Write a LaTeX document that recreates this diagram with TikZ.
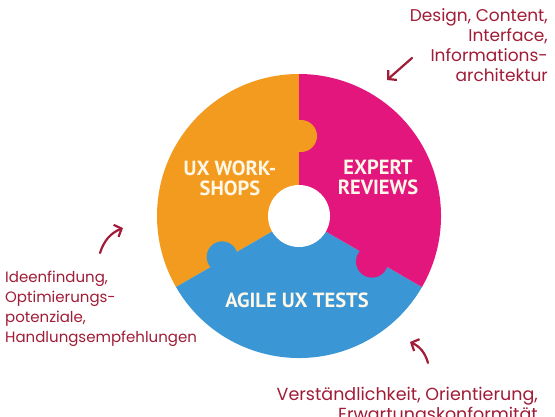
\documentclass[tikz,border=0pt]{standalone}
\usepackage{fontspec}
\usetikzlibrary{arrows.meta,calc}
\newfontfamily\notefont{Poppins}
\newfontfamily\segfont{PT Sans}
\definecolor{cOrange}{RGB}{243,155,30}
\definecolor{cMagenta}{RGB}{226,22,125}
\definecolor{cBlue}{RGB}{58,150,212}
\definecolor{cNote}{RGB}{160,28,55}
\definecolor{cLabel}{RGB}{255,247,232}
\begin{document}
\begin{tikzpicture}[x=1pt,y=1pt,
  seglabel/.style={text=cLabel, font=\segfont\bfseries\fontsize{20.5}{20}\selectfont, align=center, inner sep=0pt},
  note/.style={text=cNote, inner sep=0pt},
  notearrow/.style={draw=cNote, line width=2.2pt, line cap=round, line join=round, -{Straight Barb[length=6pt,width=13pt]}}
]
\useasboundingbox[fill=white] (0,0) rectangle (555,416);
\coordinate (C) at (299,200);
% sectors
\fill[cOrange] (C) -- ($(C)+(90:142)$) arc[start angle=90,end angle=210,radius=142pt] -- cycle;
\fill[cBlue] (C) -- ($(C)+(210:142)$) arc[start angle=210,end angle=330,radius=142pt] -- cycle;
\fill[cMagenta] (C) -- ($(C)+(330:142)$) arc[start angle=330,end angle=450,radius=142pt] -- cycle;
% puzzle knobs
\fill[cOrange] ($(C)+(90:80)+(0:2)$) circle[radius=16pt];
\fill[cBlue] ($(C)+(210:87)+(120:3)$) circle[radius=15.5pt];
\fill[cMagenta] ($(C)+(330:86)+(240:3)$) circle[radius=16pt];
% hole
\fill[white] (C) circle[radius=31pt];
% segment labels
\node[seglabel] (ws) at (230,238) {UX WORK-\\SHOPS};
\node[seglabel] (er) at (378,239) {EXPERT\\REVIEWS};
\node[seglabel] (at) at (297,116) {AGILE UX TESTS};
% notes
\node[note, font=\notefont\fontsize{17}{20}\selectfont, anchor=north east, align=right] (design) at (548,408) {Design, Content,\\Interface,\\Informations-\\architektur};
\node[note, font=\notefont\fontsize{15}{20}\selectfont, anchor=north west, align=left] (ideen) at (5,145) {Ideenfindung,\\Optimierungs-\\potenziale,\\Handlungsempfehlungen};
\node[note, font=\notefont\fontsize{17.5}{20}\selectfont, anchor=north east, align=right] (verst) at (538,29) {Verständlichkeit, Orientierung,\\Erwartungskonformität};
% arrows
\coordinate (a1s) at (412,358); \coordinate (a1e) at (387,336);
\draw[notearrow] (a1s) -- (a1e);
\coordinate (a2s) at (100,163); \coordinate (a2e) at (123,188);
\draw[notearrow] (a2s) to[bend left=25] (a2e);
\coordinate (a3s) at (428,53); \coordinate (a3e) at (410,74);
\draw[notearrow] (a3s) to[bend right=25] (a3e);
\end{tikzpicture}
\end{document}
